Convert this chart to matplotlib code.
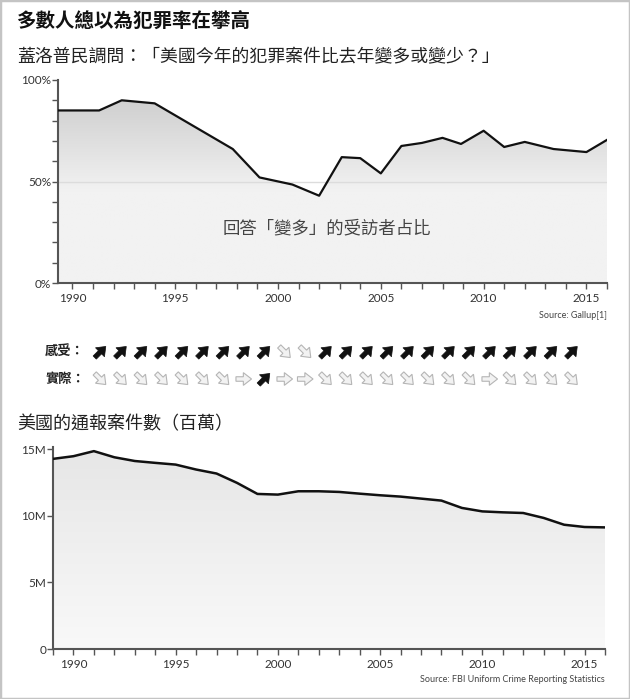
import matplotlib
matplotlib.use("Agg")
import matplotlib.pyplot as plt
import numpy as np
from matplotlib.patches import FancyArrow, Rectangle
from matplotlib.ticker import MultipleLocator, FixedLocator, FixedFormatter

plt.rcParams['font.family'] = ['Lato', 'Noto Sans CJK TC', 'DejaVu Sans']
CJK = ['Noto Sans CJK TC', 'DejaVu Sans']

# Gallup: share answering "more crime than last year" (%)
gallup_years = [1989.3, 1991.3, 1992.4, 1994.0, 1997.8, 1999.1, 2000.7, 2002.0,
                2003.1, 2004.0, 2005.0, 2006.0, 2007.0, 2008.0, 2008.9, 2010.0,
                2011.0, 2012.0, 2013.4, 2015.0, 2016.0]
gallup_more = [85, 85, 90, 88.5, 66, 52, 48.5, 43,
               62, 61.5, 54, 67.5, 69, 71.5, 68.5, 75,
               67, 69.5, 66, 64.5, 70.5]

# FBI reported crimes (millions)
fbi_years = list(range(1989, 2017))
fbi_crimes = [14.26, 14.46, 14.84, 14.38, 14.10, 13.96, 13.83, 13.46, 13.16, 12.46,
              11.63, 11.58, 11.83, 11.83, 11.78, 11.65, 11.53, 11.43, 11.28, 11.13,
              10.58, 10.32, 10.25, 10.20, 9.83, 9.32, 9.15, 9.12]

# arrow rows: perceived vs actual change
perceived = ['up'] * 9 + ['down'] * 2 + ['up'] * 13
actual = ['down'] * 7 + ['flat', 'up', 'flat', 'flat'] + ['down'] * 8 + ['flat'] + ['down'] * 4

W, H = 630, 699
fig = plt.figure(figsize=(W / 100, H / 100), dpi=100)
fig.patch.set_facecolor('white')


def px_axes(left, top, right, bottom):
    return fig.add_axes([left / W, 1 - bottom / H, (right - left) / W, (bottom - top) / H])


def style_axes(ax):
    for s in ['top', 'right']:
        ax.spines[s].set_visible(False)
    for s in ['left', 'bottom']:
        ax.spines[s].set_color('#555555')
        ax.spines[s].set_linewidth(1.5)
    ax.tick_params(which='both', direction='out', length=4, width=1, color='#555555',
                   labelsize=8.5, labelcolor='#333333')
    ax.set_facecolor('none')


def gradient_fill(ax, xs, ys, ymin, ymax, c_top, c_bot, fade_to=None):
    xs = np.asarray(xs, dtype=float)
    ys = np.asarray(ys, dtype=float)
    n = 200
    t = np.linspace(1, 0, n)  # top -> bottom
    if fade_to is not None:
        t = np.clip((t - fade_to) / (1 - fade_to), 0, 1)
    c_top = np.array(matplotlib.colors.to_rgb(c_top))
    c_bot = np.array(matplotlib.colors.to_rgb(c_bot))
    img = (c_bot[None, :] + (c_top - c_bot)[None, :] * t[:, None])[:, None, :]
    img = np.repeat(img, 2, axis=1)
    x0, x1 = ax.get_xlim()
    im = ax.imshow(img, extent=[x0, x1, ymin, ymax], aspect='auto', zorder=1,
                   interpolation='bilinear')
    poly = ax.fill_between(xs, ys, ymin, color='none', lw=0)
    im.set_clip_path(poly.get_paths()[0], transform=ax.transData)


# titles
fig.text(17 / W, 1 - 22 / H, '多數人總以為犯罪率在攀高', family=CJK, fontsize=14,
         fontweight='bold', color='#111111', va='center')
fig.text(17 / W, 1 - 57 / H, '蓋洛普民調問：「美國今年的犯罪案件比去年變多或變少？」',
         family=CJK, fontsize=12.9, color='#222222', va='center')

# top chart
ax1 = px_axes(58, 80, 607, 283)
ax1.set_xlim(1989.3, 2016.0)
ax1.set_ylim(0, 100)
style_axes(ax1)
gradient_fill(ax1, gallup_years, gallup_more, 0, 100, '#c8c8c8', '#f2f2f2', fade_to=0.45)
ax1.axhline(50, color='#dcdcdc', lw=1, zorder=2)
ax1.plot(gallup_years, gallup_more, color='#111111', lw=1.6, zorder=3)
ax1.yaxis.set_major_locator(FixedLocator([0, 50, 100]))
ax1.yaxis.set_major_formatter(FixedFormatter(['0%', '50%', '100%']))
ax1.yaxis.set_minor_locator(MultipleLocator(10))
ax1.xaxis.set_major_locator(FixedLocator([1990, 1995, 2000, 2005, 2010, 2015]))
ax1.xaxis.set_minor_locator(MultipleLocator(1))
ax1.tick_params(axis='y', pad=1)
ax1.tick_params(axis='x', pad=3)
ax1.text(2002.35, 27, '回答「變多」的受訪者占比', family=CJK, fontsize=12.5, color='#444444',
         ha='center', va='center', zorder=4)
fig.text(607 / W, 1 - 316 / H, 'Source: Gallup[1]', fontsize=6.5, color='#444444',
         ha='right', va='center')

# arrow rows
axa = px_axes(90, 340, 582, 392)
axa.set_xlim(-0.5, len(perceived) - 0.5)
axa.set_ylim(0, 52 / 20.5)
axa.axis('off')


def draw_arrow(ax, x, y, kind):
    d = 0.27
    kw = dict(width=0.22, head_width=0.62, head_length=0.4, length_includes_head=True)
    if kind == 'up':
        a = FancyArrow(x - d, y - d, 2 * d, 2 * d, fc='#111111', ec='#111111', lw=0.5, **kw)
    elif kind == 'down':
        a = FancyArrow(x - d, y + d, 2 * d, -2 * d, fc='#f2f2f2', ec='#b5b5b5', lw=0.8, **kw)
    else:
        a = FancyArrow(x - 0.38, y, 0.76, 0, fc='#f2f2f2', ec='#b5b5b5', lw=0.8, **kw)
    ax.add_patch(a)


for i, k in enumerate(perceived):
    draw_arrow(axa, i, 40 / 20.5, k)
for i, k in enumerate(actual):
    draw_arrow(axa, i, 13 / 20.5, k)
fig.text(45 / W, 1 - 352 / H, '感受：', family=CJK, fontsize=9.5, fontweight='bold',
         color='#222222', va='center')
fig.text(45 / W, 1 - 379 / H, '實際：', family=CJK, fontsize=9.5, fontweight='bold',
         color='#222222', va='center')

# bottom chart
fig.text(17 / W, 1 - 424 / H, '美國的通報案件數（百萬）', family=CJK, fontsize=13,
         color='#222222', va='center')
ax2 = px_axes(53, 447, 605, 649)
ax2.set_xlim(1989, 2016)
ax2.set_ylim(0, 15.15)
style_axes(ax2)
gradient_fill(ax2, fbi_years, fbi_crimes, 0, 15.15, '#e6e6e6', '#f9f9f9')
ax2.plot(fbi_years, fbi_crimes, color='#111111', lw=1.8, zorder=3)
ax2.yaxis.set_major_locator(FixedLocator([0, 5, 10, 15]))
ax2.yaxis.set_major_formatter(FixedFormatter(['0', '5M', '10M', '15M']))
ax2.xaxis.set_major_locator(FixedLocator([1990, 1995, 2000, 2005, 2010, 2015]))
ax2.xaxis.set_minor_locator(MultipleLocator(1))
ax2.tick_params(axis='y', pad=1)
ax2.tick_params(axis='x', pad=3)
fig.text(605 / W, 1 - 680 / H, 'Source: FBI Uniform Crime Reporting Statistics', fontsize=6.5,
         color='#444444', ha='right', va='center')

# outer frame
fig.patches.append(Rectangle((0, 0), 1, 1, transform=fig.transFigure, fill=False,
                             edgecolor='#c4c4c4', lw=2.5))

fig.savefig('out.png', dpi=100)
